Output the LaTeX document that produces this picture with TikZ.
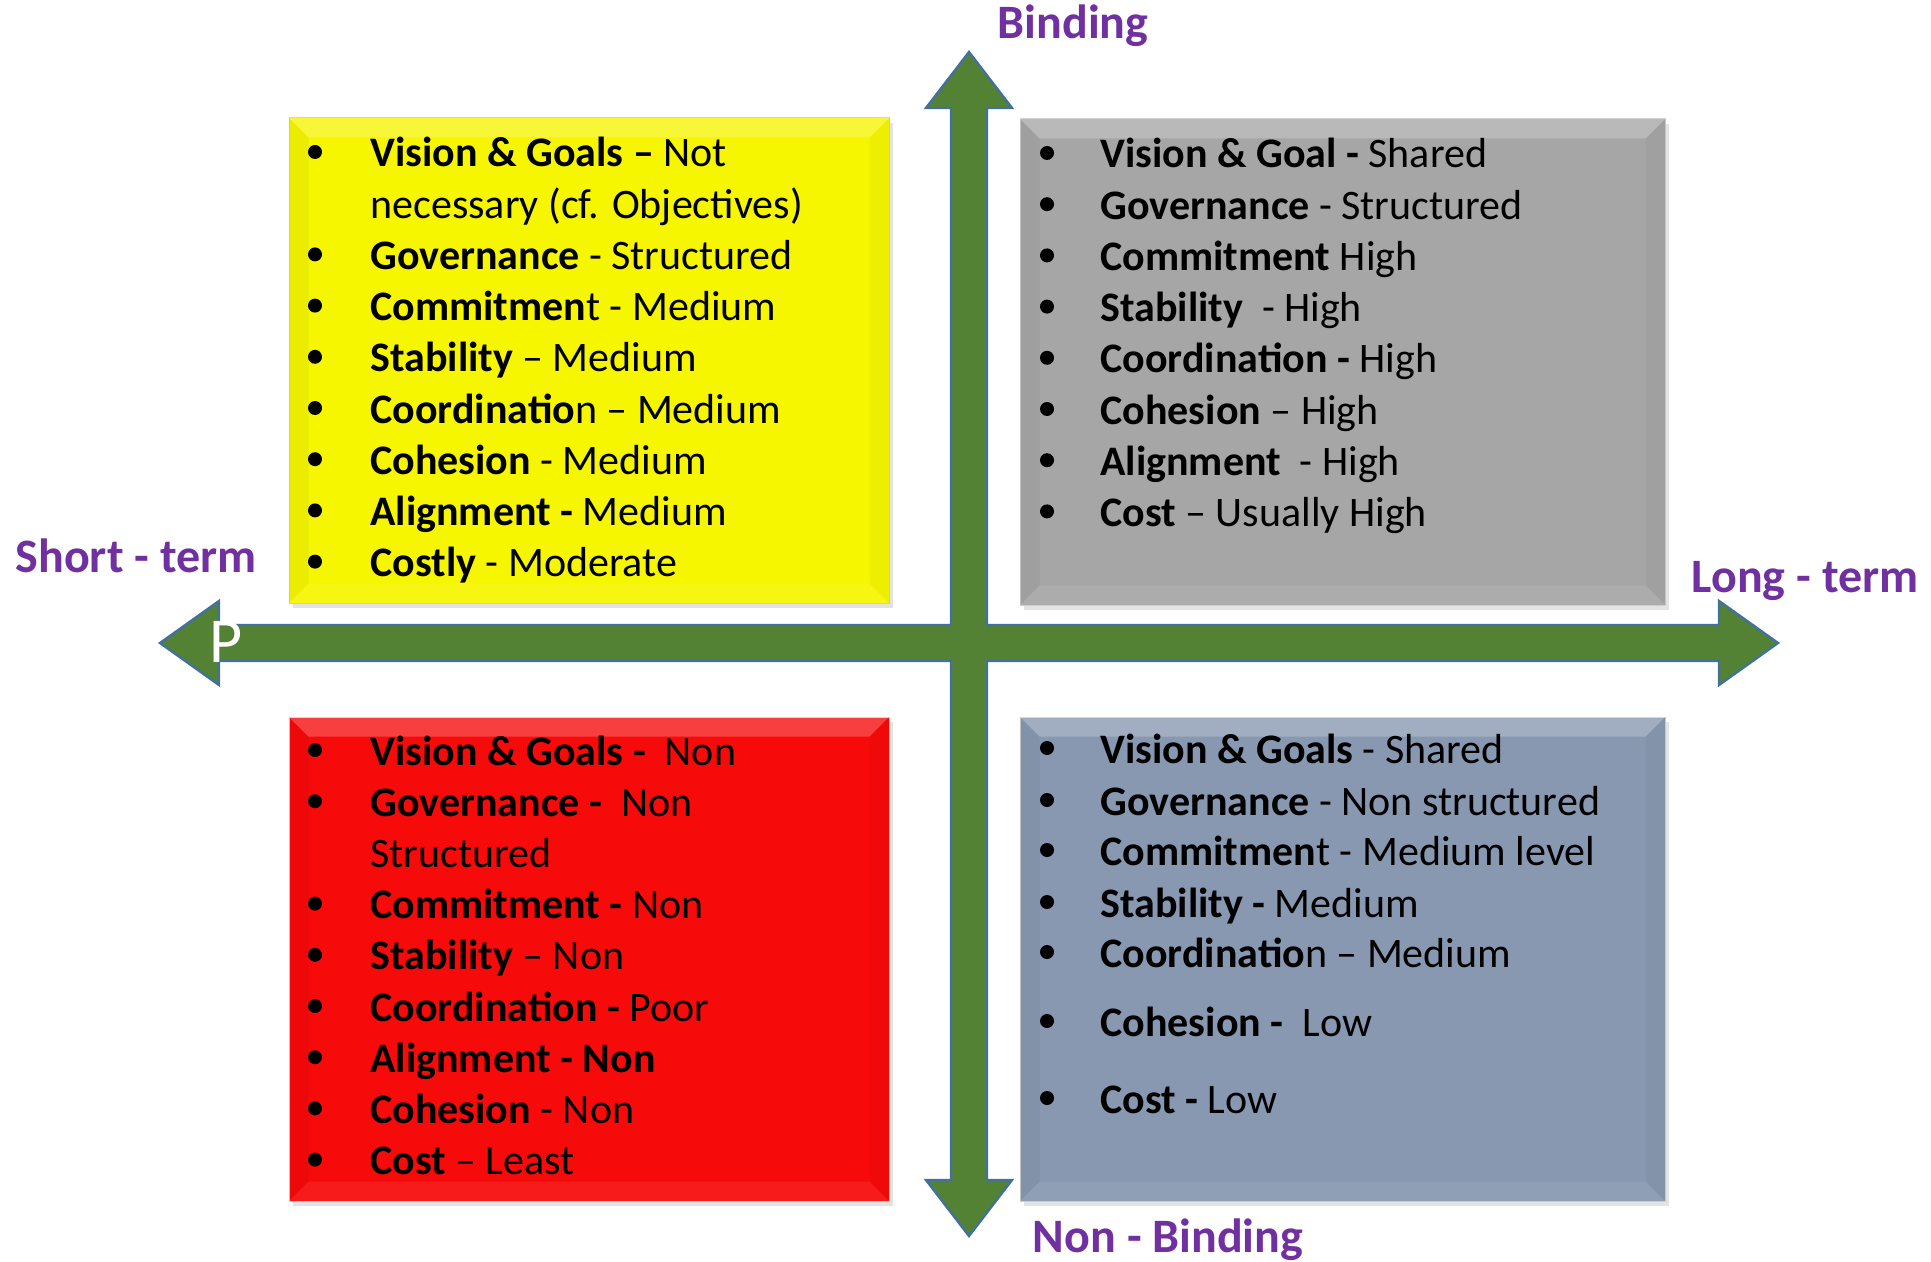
\documentclass[tikz,border=0pt]{standalone}
\usepackage{fontspec}
\setmainfont{Carlito}
\usetikzlibrary{calc,shadows}

\definecolor{axisgreen}{HTML}{548235}
\definecolor{axisblue}{HTML}{41719C}
\definecolor{labelpurple}{HTML}{7030A0}
\definecolor{quadyellow}{HTML}{F6F600}
\definecolor{quadgray}{HTML}{A6A6A6}
\definecolor{quadred}{HTML}{F70A0A}
\definecolor{quadblue}{HTML}{8798B0}

% soft bevel on the four edges of a quadrant box
\newcommand\quadbevel[1]{%
  \fill[white,fill opacity=.22] (#1.north west) -- (#1.north east) -- ($(#1.north east)+(-20,20)$) -- ($(#1.north west)+(20,20)$) -- cycle;
  \fill[black,fill opacity=.04] (#1.north west) -- ($(#1.north west)+(20,20)$) -- ($(#1.south west)+(20,-20)$) -- (#1.south west) -- cycle;
  \fill[white,fill opacity=.07] (#1.south west) -- ($(#1.south west)+(20,-20)$) -- ($(#1.south east)+(-20,-20)$) -- (#1.south east) -- cycle;
  \fill[black,fill opacity=.03] (#1.north east) -- (#1.south east) -- ($(#1.south east)+(-20,-20)$) -- ($(#1.north east)+(-20,20)$) -- cycle;
}

\begin{document}
\begin{tikzpicture}[x=0.5pt,y=-0.5pt,
  quad/.style={draw=black!20,line width=.5pt,inner sep=0pt,
    drop shadow={shadow xshift=2pt,shadow yshift=-2.5pt,opacity=.22}},
  item/.style={anchor=base west,inner sep=0pt,font=\fontsize{21pt}{25pt}\selectfont},
  axislabel/.style={anchor=base,inner sep=0pt,text=labelpurple,font=\fontsize{24pt}{28pt}\selectfont\bfseries}]
  \useasboundingbox (0,0) rectangle (1931,1262);

  % quadrants
  \node[quad,fill=quadyellow,minimum width=300pt,minimum height=242.5pt] (shortbind) at (589,360.5) {};
  \node[quad,fill=quadgray,minimum width=322.5pt,minimum height=243pt] (longbind) at (1342.5,362) {};
  \node[quad,fill=quadred,minimum width=300pt,minimum height=242pt] (shortnon) at (589,959) {};
  \node[quad,fill=quadblue,minimum width=322.5pt,minimum height=242pt] (longnon) at (1342.5,959) {};
  \foreach \q in {shortbind,longbind,shortnon,longnon} {\quadbevel{\q}}

  % the two axes as one cross with four heads
  \draw[axisblue,fill=axisgreen,line width=1.2pt,line join=miter]
    (969,52) -- (1012,108) -- (987,108) -- (987,625) -- (1719,625) -- (1719,601)
    -- (1778,643) -- (1719,685) -- (1719,661) -- (987,661) -- (987,1180)
    -- (1012,1180) -- (969,1236) -- (926,1180) -- (951,1180) -- (951,661)
    -- (219,661) -- (219,685) -- (160,643) -- (219,601) -- (219,625)
    -- (951,625) -- (951,108) -- (926,108) -- cycle;
  \node[text=white,inner sep=0pt,font=\fontsize{32pt}{32pt}\selectfont] (pmark) at (226,642) {P};

  \node[axislabel] (binding) at (1073,39) {Binding};
  \node[axislabel] (nonbinding) at (1168,1252) {Non - Binding};
  \node[axislabel] (shortterm) at (136,572) {Short - term};
  \node[axislabel] (longterm) at (1805,592) {Long - term};

  % short-term, binding
  \foreach \bul/\txt [count=\i from 0] in {
      1/{\textbf{Vision \& Goals –} Not},
      0/{necessary (cf. Objectives)},
      1/{\textbf{Governance} - Structured},
      1/{\textbf{Commitmen}t - Medium},
      1/{\textbf{Stability} – Medium},
      1/{\textbf{Coordinatio}n – Medium},
      1/{\textbf{Cohesion} - Medium},
      1/{\textbf{Alignment -} Medium},
      1/{\textbf{Costly} - Moderate}} {
    \node[item] (sb\i) at (370,{167+51.2*\i}) {\txt};
    \ifnum\bul=1 \fill (315,{152+51.2*\i}) circle (7); \fi
  }

  % long-term, binding
  \foreach \txt [count=\i from 0] in {
      {\textbf{Vision \& Goal -} Shared},
      {\textbf{Governance} - Structured},
      {\textbf{Commitment} High},
      {\textbf{Stability}\ \ - High},
      {\textbf{Coordination -} High},
      {\textbf{Cohesion} – High},
      {\textbf{Alignment}\ \ - High},
      {\textbf{Cost} – Usually High}} {
    \node[item] (lb\i) at (1100,{168+51.2*\i}) {\txt};
    \fill (1047,{153+51.2*\i}) circle (7);
  }

  % short-term, non-binding
  \foreach \bul/\txt [count=\i from 0] in {
      1/{\textbf{Vision \& Goals -}\ \ Non},
      1/{\textbf{Governance -}\ \ Non},
      0/{Structured},
      1/{\textbf{Commitment -} Non},
      1/{\textbf{Stability} – Non},
      1/{\textbf{Coordination -} Poor},
      1/{\textbf{Alignment - Non}},
      1/{\textbf{Cohesion} - Non},
      1/{\textbf{Cost} – Least}} {
    \node[item] (sn\i) at (370,{765+51.2*\i}) {\txt};
    \ifnum\bul=1 \fill (315,{750+51.2*\i}) circle (7); \fi
  }

  % long-term, non-binding
  \foreach \y/\txt [count=\i from 0] in {
      763/{\textbf{Vision \& Goals} - Shared},
      815/{\textbf{Governance} - Non structured},
      865/{\textbf{Commitmen}t - Medium level},
      917/{\textbf{Stability -} Medium},
      967/{\textbf{Coordinatio}n – Medium},
      1036/{\textbf{Cohesion -}\ \ Low},
      1113/{\textbf{Cost -} Low}} {
    \node[item] (ln\i) at (1100,\y) {\txt};
    \fill (1047,\y-15) circle (7);
  }
\end{tikzpicture}
\end{document}
